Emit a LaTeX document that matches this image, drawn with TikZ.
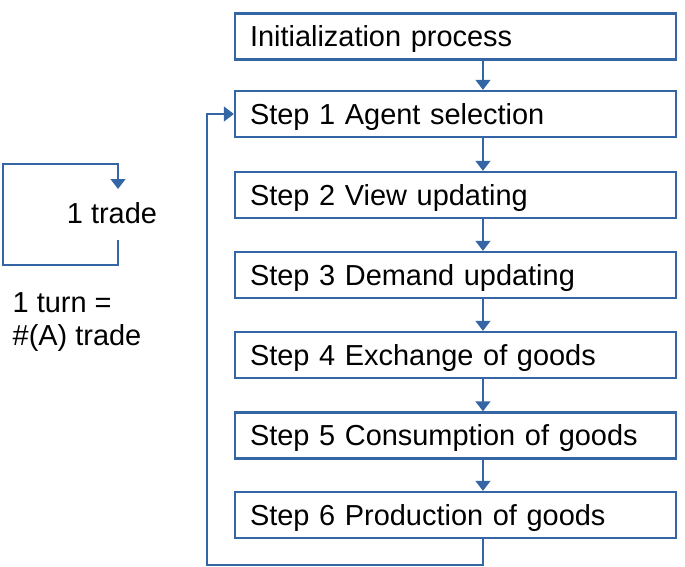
\documentclass[tikz,border=0pt]{standalone}
\usepackage{fontspec}
\setmainfont{Liberation Sans}
\usetikzlibrary{arrows.meta}
\definecolor{flowblue}{RGB}{52,101,164}
\begin{document}
\begin{tikzpicture}[x=0.75pt,y=-0.75pt,
	stepbox/.style={draw=flowblue,line width=1.7pt,text width=308.25pt,align=left,
		inner xsep=11.25pt,text height=15.5pt,text depth=0pt,minimum height=34.5pt,
		font=\fontsize{21.7}{26}\selectfont},
	flow/.style={draw=flowblue,line width=1.7pt,-{Triangle[width=11pt,length=7.5pt]}},
	label/.style={font=\fontsize{21.7}{25}\selectfont,align=left}]
	\useasboundingbox (0,0) rectangle (685,567);
	\node[stepbox] (s0) at (455.5,36.5) {Initialization process};
	\foreach \n/\y/\t in {1/114/Agent selection,2/195/View updating,3/275/Demand updating,
		4/355/Exchange of goods,5/435.5/Consumption of goods,6/515/Production of goods}{
		\node[stepbox] (s\n) at (455.5,\y) {Step \n\ \t};
	}
	\foreach \i [count=\j] in {0,...,5}{
		\draw[flow] ([xshift=20.6pt]s\i.south)--([xshift=20.6pt]s\j.north);
	}
	% loop back after step 6
	\draw[flow] ([xshift=20.6pt]s6.south)--++(0,26)-|([xshift=-20.25pt]s1.west)--(s1.west);
	% one trade
	\coordinate (tradeout) at (118,240);
	\coordinate (tradein) at (118,189);
	\draw[flow] (tradeout)--(118,265)--(3,265)--(3,164)--(118,164)--(tradein);
	\node[label] (trade) at (112,213) {1 trade};
	\node[label,anchor=north west] (turn) at (8,288) {1 turn =\\\#(A) trade};
\end{tikzpicture}
\end{document}
